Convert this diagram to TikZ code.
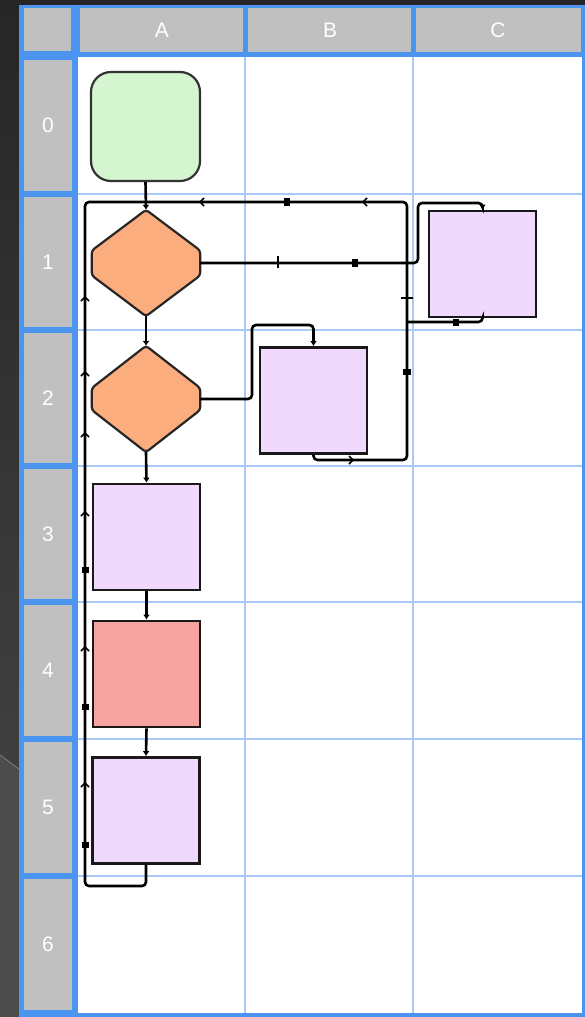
\documentclass[tikz,border=0pt]{standalone}
\usepackage{fontspec}
\newfontfamily\hdrfont{Liberation Sans}
\usetikzlibrary{calc,arrows.meta}
\definecolor{bgdark}{HTML}{262626}
\definecolor{gridblue}{HTML}{4B94F0}
\definecolor{lightgrid}{HTML}{A9C9F6}
\definecolor{hdrgray}{HTML}{C0C0C0}
\definecolor{lav}{HTML}{EFD9FC}
\definecolor{redbox}{HTML}{F7A4A1}
\definecolor{greenbox}{HTML}{D5F5D0}
\definecolor{orangebox}{HTML}{FBAD7E}
\begin{document}
\begin{tikzpicture}[x=1pt,y=-1pt,
  hdrcell/.style={fill=hdrgray},
  hdrtext/.style={text=white,font=\hdrfont\fontsize{21}{21}\selectfont,inner sep=0pt},
  cellline/.style={draw=lightgrid,line width=2.4pt},
  startbox/.style={draw=black!80,line width=2.2pt,fill=greenbox,rounded corners=20pt,minimum width=109pt,minimum height=109pt,inner sep=0pt},
  procbox/.style={draw=black!90,line width=2.8pt,fill=lav,minimum width=107pt,minimum height=106pt,inner sep=0pt},
  hexbox/.style={minimum width=108pt,minimum height=106pt,inner sep=0pt},
  hexdraw/.style={draw=black!85,line width=2.2pt,fill=orangebox,rounded corners=3pt},
  conn/.style={draw=black,line width=2.6pt,rounded corners=4pt},
  tip/.style={-{Latex[length=5pt,width=7pt]}},
  chev/.style={draw=black,line width=1.6pt},
  dotmark/.style={fill=black}
]
\useasboundingbox (0,0) rectangle (585,1017);
% background
\fill[bgdark] (0,0) rectangle (585,1017);
\shade[top color=black!85,bottom color=black!72] (0,5) rectangle (19,1017);
\fill[black!70] (0,755) -- (19,769) -- (19,1017) -- (0,1017) -- cycle;
\draw[black!50,line width=0.8pt] (0,755) -- (19,769);
% blue frame
\fill[gridblue] (19,5) rectangle (585,1017);
% header cells
\fill[hdrcell] (24,8) rectangle (71,51);
\fill[hdrcell] (80,8) rectangle (243,52);
\fill[hdrcell] (248,8) rectangle (411,52);
\fill[hdrcell] (416,8) rectangle (581,52);
\node[hdrtext] (hA) at (162,30) {A};
\node[hdrtext] (hB) at (330,30) {B};
\node[hdrtext] (hC) at (498,30) {C};
% row header cells
\foreach \a/\b/\lab [count=\i] in {57/194/0,194/330/1,330/466/2,466/602/3,602/739/4,739/876/5,876/1013/6}{
  \fill[hdrcell] (24,\a+3) rectangle (72,\b-3);
  \node[hdrtext] (r\i) at (48,{(\a+\b)/2}) {\lab};
}
% body
\fill[white] (78,57) rectangle (582,1013);
\draw[cellline] (245,57) -- (245,1013);
\draw[cellline] (413,57) -- (413,1013);
\foreach \y in {194,330,466,602,739,876}{
  \draw[cellline] (78,\y) -- (582,\y);
}
% nodes
\node[startbox] (s) at (145.5,126.5) {};
\node[hexbox] (d1) at (146,263) {};
\path[hexdraw] (d1.north) -- ($(d1.east)+(0,-12.5)$) -- ($(d1.east)+(0,12.5)$) -- (d1.south) -- ($(d1.west)+(0,12.5)$) -- ($(d1.west)+(0,-12.5)$) -- cycle;
\node[hexbox] (d2) at (146,399) {};
\path[hexdraw] (d2.north) -- ($(d2.east)+(0,-11)$) -- ($(d2.east)+(0,11)$) -- (d2.south) -- ($(d2.west)+(0,11)$) -- ($(d2.west)+(0,-11)$) -- cycle;
\node[procbox] (b3) at (146.5,537) {};
\node[procbox,fill=redbox] (b4) at (146.5,674) {};
\node[procbox] (b5) at (146,810.5) {};
\node[procbox] (bB) at (313.5,400.5) {};
\node[procbox] (bC) at (482.5,264) {};
% helper coordinates
\coordinate (jt) at (146,202);
\coordinate (lt) at (85,202);
\coordinate (lb) at (85,886);
\coordinate (rt) at (407,202);
\coordinate (rb) at (407,460);
\coordinate (rj) at (407,322);
\coordinate (k2) at (418,203);
\coordinate (k3) at (252,325);
% connectors
\draw[conn,tip] (s.south) -- (d1.north);
\draw[conn,tip] (d1.south) -- (d2.north);
\draw[conn,tip] (d2.south) -- (b3.north);
\draw[conn,tip] (b3.south) -- (b4.north);
\draw[conn,tip] (b4.south) -- (b5.north);
\draw[conn] (b5.south) |- (lb) -- (lt) -- (jt);
\draw[conn] (bB.south) |- (rb) -- (rt) -- (jt);
\draw[conn] (bC.south) |- (rj);
\draw[conn,tip] (d1.east) -| (k2) -| (bC.north);
\draw[conn,tip] (d2.east) -| (k3) -| (bB.north);
% small markers on the loop lines
\foreach \y in {297,372,433,512,647,783}{
  \draw[chev] (81,\y+4) -- (85,\y) -- (89,\y+4);
}
\foreach \y in {570,707,845}{
  \fill[dotmark] (81.5,\y-3) rectangle (88.5,\y+3);
}
\foreach \x in {200,363}{
  \draw[chev] (\x+4,198) -- (\x,202) -- (\x+4,206);
}
\fill[dotmark] (284,198) rectangle (290,206);
\fill[dotmark] (352,258.5) rectangle (358,266.5);
\draw[black,line width=1.8pt] (278,256) -- (278,268);
\draw[black,line width=1.8pt] (401,298) -- (413,298);
\fill[dotmark] (403,369) rectangle (411,375);
\fill[dotmark] (453,318.5) rectangle (459,325.5);
\draw[chev] (349,456) -- (353,460) -- (349,464);
\end{tikzpicture}
\end{document}
